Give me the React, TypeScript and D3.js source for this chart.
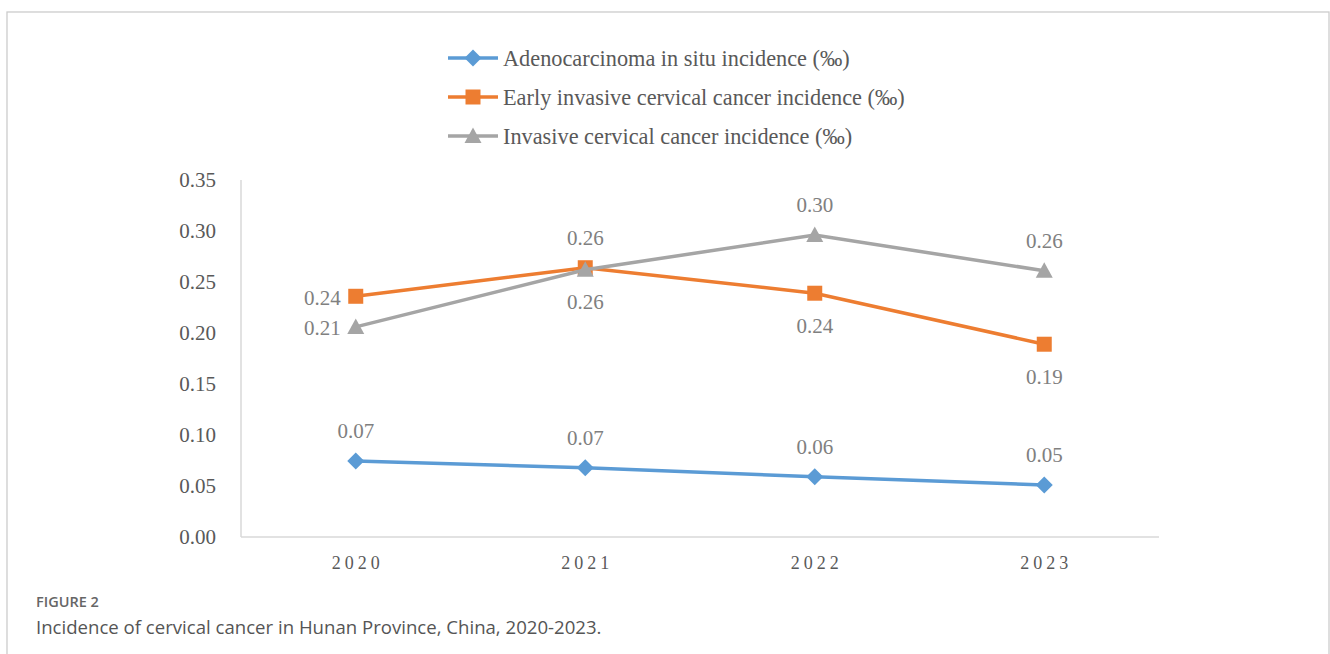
import React, { useEffect, useRef } from 'react';
import * as d3 from 'd3';

const years = ['2020', '2021', '2022', '2023'];
const adenoInSitu = [0.0745, 0.068, 0.059, 0.051];
const earlyInvasive = [0.236, 0.264, 0.239, 0.189];
const invasive = [0.206, 0.262, 0.296, 0.261];
const yTicks = [0, 0.05, 0.1, 0.15, 0.2, 0.25, 0.3, 0.35];

const seriesNames = [
  'Adenocarcinoma in situ incidence (‰)',
  'Early invasive cervical cancer incidence (‰)',
  'Invasive cervical cancer incidence (‰)',
];
// where each data label sits relative to its point
const adenoLabelPos = ['above', 'above', 'above', 'above'];
const earlyLabelPos = ['left', 'above', 'below', 'below'];
const invasiveLabelPos = ['left', 'below', 'above', 'above'];

const App = () => {
  const svgRef = useRef<SVGSVGElement>(null);

  useEffect(() => {
    const svg = d3.select(svgRef.current);
    svg.selectAll('*').remove();

    const serif = '"Liberation Serif", "Times New Roman", serif';
    const x = d3.scaleBand().domain(years).range([241, 1159]);
    const y = d3.scaleLinear().domain([0, 0.35]).range([537, 180]);
    const cx = (d: string) => (x(d) as number) + x.bandwidth() / 2;

    // outer frame
    svg.append('rect')
      .attr('x', 7).attr('y', 12).attr('width', 1322).attr('height', 700)
      .attr('fill', 'none').attr('stroke', '#cccccc').attr('stroke-width', 1.3);

    // axes
    svg.append('line')
      .attr('x1', 241).attr('x2', 241).attr('y1', y(0.35)).attr('y2', y(0))
      .attr('stroke', '#d9d9d9').attr('stroke-width', 1.5);
    svg.append('line')
      .attr('x1', 241).attr('x2', 1159).attr('y1', y(0)).attr('y2', y(0))
      .attr('stroke', '#d9d9d9').attr('stroke-width', 1.5);

    svg.append('g').selectAll('text').data(yTicks).enter().append('text')
      .attr('x', 216).attr('y', d => y(d)).attr('dy', '0.35em')
      .attr('text-anchor', 'end')
      .attr('font-family', serif).attr('font-size', 21).attr('fill', '#595959')
      .text(d => d3.format('.2f')(d));

    svg.append('g').selectAll('text').data(years).enter().append('text')
      .attr('x', d => cx(d) + 2).attr('y', 569)
      .attr('text-anchor', 'middle')
      .attr('font-family', serif).attr('font-size', 18).attr('fill', '#595959')
      .attr('letter-spacing', 4)
      .text(d => d);

    const series = [
      { name: seriesNames[0], values: adenoInSitu, color: '#5b9bd5', shape: 'diamond', pos: adenoLabelPos },
      { name: seriesNames[1], values: earlyInvasive, color: '#ed7d31', shape: 'square', pos: earlyLabelPos },
      { name: seriesNames[2], values: invasive, color: '#a5a5a5', shape: 'triangle', pos: invasiveLabelPos },
    ];

    const markerPath = (shape: string) => {
      if (shape === 'diamond') return 'M0,-8.5L8.5,0L0,8.5L-8.5,0Z';
      if (shape === 'square') return 'M-7.5,-7.5H7.5V7.5H-7.5Z';
      return 'M0,-8.5L8.5,7L-8.5,7Z';
    };

    const line = d3.line<number>()
      .x((d, i) => cx(years[i]))
      .y(d => y(d));

    series.forEach(s => {
      svg.append('path')
        .attr('d', line(s.values))
        .attr('fill', 'none').attr('stroke', s.color).attr('stroke-width', 3.5);
      svg.append('g').selectAll('path').data(s.values).enter().append('path')
        .attr('transform', (d, i) => `translate(${cx(years[i])},${y(d)})`)
        .attr('d', markerPath(s.shape))
        .attr('fill', s.color);
    });

    series.forEach(s => {
      svg.append('g').selectAll('text').data(s.values).enter().append('text')
        .attr('x', (d, i) => s.pos[i] === 'left' ? cx(years[i]) - 15 : cx(years[i]))
        .attr('y', (d, i) => {
          const p = s.pos[i];
          if (p === 'above') return y(d) - 30;
          if (p === 'below') return y(d) + 32;
          return y(d) + 1;
        })
        .attr('dy', '0.35em')
        .attr('text-anchor', (d, i) => s.pos[i] === 'left' ? 'end' : 'middle')
        .attr('font-family', serif).attr('font-size', 21).attr('fill', '#808080')
        .text(d => d3.format('.2f')(d));
    });

    // legend
    const legend = svg.append('g').selectAll('g').data(series).enter().append('g')
      .attr('transform', (d, i) => `translate(448,${58 + i * 39})`);
    legend.append('line')
      .attr('x1', 0).attr('x2', 50).attr('y1', 0).attr('y2', 0)
      .attr('stroke', d => d.color).attr('stroke-width', 3.5);
    legend.append('path')
      .attr('transform', 'translate(25,0)')
      .attr('d', d => markerPath(d.shape))
      .attr('fill', d => d.color);
    legend.append('text')
      .attr('x', 55).attr('y', 0).attr('dy', '0.35em')
      .attr('font-family', serif).attr('font-size', 22.3).attr('fill', '#595959')
      .text(d => d.name);

    // caption
    svg.append('text')
      .attr('x', 36).attr('y', 607)
      .attr('font-family', '"Open Sans", Lato, sans-serif').attr('font-size', 14.5)
      .attr('font-weight', 600).attr('fill', '#666666')
      .text('FIGURE 2');
    svg.append('text')
      .attr('x', 36).attr('y', 634)
      .attr('font-family', '"Open Sans", Lato, sans-serif').attr('font-size', 18.6)
      .attr('fill', '#555555')
      .text('Incidence of cervical cancer in Hunan Province, China, 2020-2023.');
  }, []);

  return (
    <div style={{ position: 'absolute', left: 0, top: 0 }}>
      <svg ref={svgRef} width={1330} height={654} style={{ display: 'block', background: '#ffffff' }}></svg>
    </div>
  );
};

export default App;
